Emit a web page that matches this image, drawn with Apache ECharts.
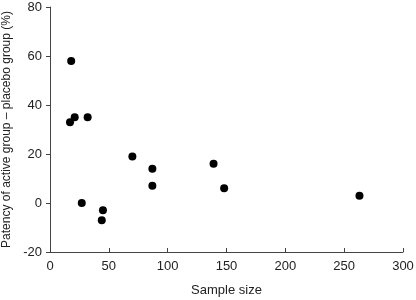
<!DOCTYPE html>
<html>
<head>
<meta charset="utf-8">
<script src="https://cdn.jsdelivr.net/npm/echarts@6/dist/echarts.min.js"></script>
<style>
  html, body { margin: 0; padding: 0; background: #fff; }
  #chart { width: 416px; height: 300px; }
</style>
</head>
<body>
<div id="chart"></div>
<script>
// sample size vs patency difference (%)
const sampleSize = [18, 17, 21, 32, 27, 45, 44, 70, 87, 87, 139, 148, 263];
const patencyDiff = [58, 33, 35, 35, 0, -3, -7, 19, 14, 7, 16, 6, 3];
const xTicks = [0, 50, 100, 150, 200, 250, 300];
const yTicks = [-20, 0, 20, 40, 60, 80];

let points = sampleSize.map(function (s, i) { return [s, patencyDiff[i]]; });

let myChart = echarts.init(document.getElementById('chart'));
let axisTxt = { color: '#222', fontSize: 13, fontFamily: 'Liberation Sans, Arial, sans-serif' };

myChart.setOption({
  backgroundColor: '#fff',
  animation: false,
  grid: { left: 50, right: 13, top: 7, bottom: 48, containLabel: false, outerBoundsMode: 'none' },
  xAxis: {
    type: 'value',
    min: xTicks[0], max: xTicks[xTicks.length - 1], interval: 50,
    name: 'Sample size',
    nameLocation: 'middle',
    nameGap: 32,
    nameTextStyle: axisTxt,
    axisLine: { onZero: false, lineStyle: { color: '#444', width: 1 } },
    axisTick: { inside: true, length: 4, lineStyle: { color: '#444' } },
    axisLabel: Object.assign({ margin: 8 }, axisTxt),
    splitLine: { show: false }
  },
  yAxis: {
    type: 'value',
    min: yTicks[0], max: yTicks[yTicks.length - 1], interval: 20,
    name: 'Patency of active group \u2013 placebo group (%)',
    nameLocation: 'middle',
    nameGap: 36,
    nameTextStyle: Object.assign({}, axisTxt, { fontSize: 12 }),
    axisLine: { show: true, onZero: false, lineStyle: { color: '#444', width: 1 } },
    axisTick: { show: true, length: 4, lineStyle: { color: '#444' } },
    axisLabel: Object.assign({ margin: 8 }, axisTxt),
    splitLine: { show: false }
  },
  series: [{
    type: 'scatter',
    data: points,
    symbol: 'circle',
    symbolSize: 8,
    itemStyle: { color: '#000', opacity: 1 }
  }]
});
</script>
</body>
</html>
